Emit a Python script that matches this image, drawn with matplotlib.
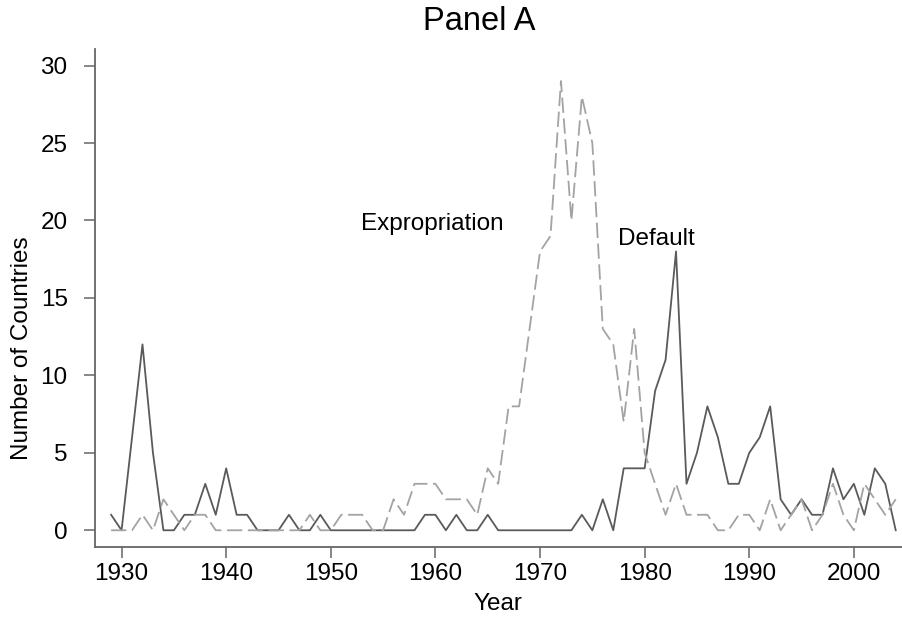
import matplotlib
matplotlib.use("Agg")
import matplotlib.pyplot as plt
import numpy as np

# data
years = np.arange(1929, 2005)

default = [1, 0, 6, 12, 5, 0, 0, 1, 1, 3, 1, 4, 1, 1, 0, 0, 0, 1, 0, 0,
           1, 0, 0, 0, 0, 0, 0, 0, 0, 0, 1, 1, 0, 1, 0, 0, 1, 0, 0, 0,
           0, 0, 0, 0, 0, 1, 0, 2, 0, 4, 4, 4, 9, 11, 18, 3, 5, 8, 6, 3,
           3, 5, 6, 8, 2, 1, 2, 1, 1, 4, 2, 3, 1, 4, 3, 0]

expropriation = [0, 0, 0, 1, 0, 2, 1, 0, 1, 1, 0, 0, 0, 0, 0, 0, 0, 0, 0, 1,
                 0, 0, 1, 1, 1, 0, 0, 2, 1, 3, 3, 3, 2, 2, 2, 1, 4, 3, 8, 8,
                 13, 18, 19, 29, 20, 28, 25, 13, 12, 7, 13, 5, 3, 1, 3, 1, 1, 1, 0, 0,
                 1, 1, 0, 2, 0, 1, 2, 0, 1, 3, 1, 0, 3, 2, 1, 2]

xticks = [1930, 1940, 1950, 1960, 1970, 1980, 1990, 2000]
yticks = [0, 5, 10, 15, 20, 25, 30]

plt.rcParams['font.family'] = ['Liberation Sans', 'DejaVu Sans']
plt.rcParams['lines.scale_dashes'] = False

fig = plt.figure(figsize=(9.02, 6.17), dpi=100)
ax = fig.add_axes([95 / 902, 1 - 546.7 / 617, 1 - 95 / 902, (546.7 - 49) / 617])

ax.plot(years, default, color='#5a5a5a', lw=1.3)
ax.plot(years, expropriation, color='#a3a3a3', lw=1.3, dashes=(11, 4))

ax.set_xlim(1927.46, 2004.6)
ax.set_ylim(-1.06, 31.07)

for s in ['top', 'right']:
    ax.spines[s].set_visible(False)
for s in ['left', 'bottom']:
    ax.spines[s].set_color('#666666')
    ax.spines[s].set_linewidth(1.3)

ax.set_xticks(xticks)
ax.set_yticks(yticks)
ax.tick_params(axis='both', colors='#666666', labelcolor='black', length=7.7,
               width=1.1, labelsize=17.5)
ax.tick_params(axis='y', pad=12)
ax.tick_params(axis='x', pad=4)

ax.text(1952.93, 19.39, 'Expropriation', fontsize=17.5, ha='left', va='baseline')
ax.text(1977.42, 18.42, 'Default', fontsize=17.5, ha='left', va='baseline')

fig.text(479 / 902, 1 - 22 / 617, 'Panel A', fontsize=23.5, ha='center', va='center')
fig.text(498 / 902, 1 - 604 / 617, 'Year', fontsize=17.5, ha='center', va='center')
fig.text(22 / 902, 1 - 348 / 617, 'Number of Countries', fontsize=17.5,
         ha='center', va='center', rotation=90)

fig.savefig('out.png', dpi=100)
